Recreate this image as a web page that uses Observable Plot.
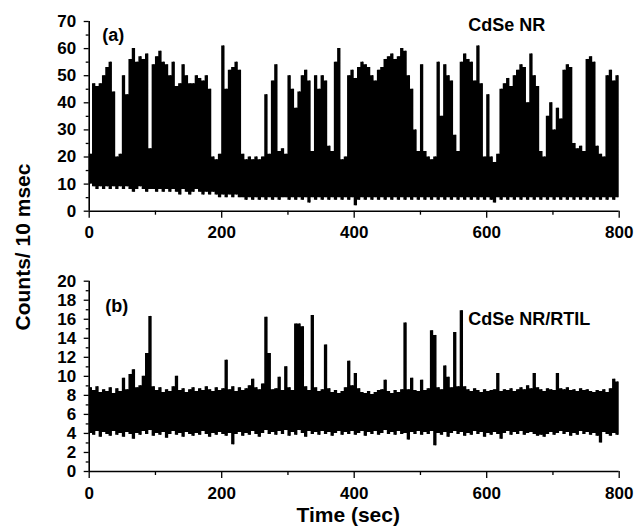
<!DOCTYPE html>
<html>
<head>
<meta charset="utf-8">
<script src="https://cdn.jsdelivr.net/npm/d3@7"></script>
<script src="https://cdn.jsdelivr.net/npm/@observablehq/plot@0.6"></script>
<style>
  html, body { margin: 0; padding: 0; background: #fff; }
  #wrap { position: relative; width: 634px; height: 529px; overflow: hidden; font-family: "Liberation Sans", Arial, sans-serif; }
  .panel { position: absolute; left: 0; }
  #ylab { position: absolute; left: 0; top: 0; pointer-events: none; }
</style>
</head>
<body>
<div id="wrap"></div>
<script>
// ---- data: trace envelopes, 5-second bins (0..795 s) ----
const binStep = 5;
const binStart = d3.range(0, 800, binStep);

// Panel (a) CdSe NR: upper and lower envelope of counts per 10 ms in each bin
const hiA = [
  21,47,46,47,50,53,55,44,20,21,
  50,43,56,60,55,57,56,58,23,54,
  57,59,55,54,50,55,46,47,54,50,
  47,47,50,49,48,50,45,20,19,21,
  61,45,52,53,55,52,21,19,20,19,
  20,19,20,43,21,48,54,22,23,21,
  50,45,38,44,50,52,48,22,50,45,
  50,48,24,22,55,60,19,20,50,52,
  49,53,55,54,53,50,48,52,53,56,
  57,58,56,57,60,59,50,45,30,22,
  54,22,20,19,20,55,35,54,50,48,
  28,22,55,58,56,55,48,61,47,20,
  43,20,18,21,45,47,49,46,50,52,
  54,53,40,58,50,46,22,20,35,40,
  30,38,34,52,54,53,25,23,24,22,
  56,57,55,24,21,20,50,52,48,50
];
const loA = [
  10,9,8,9,8,9,8,9,8,9,
  8,9,8,7,8,9,8,7,8,8,
  7,8,7,8,7,8,7,6,8,7,
  6,7,8,7,6,7,6,7,6,5,
  6,5,6,5,6,5,5,4,5,4,
  5,4,5,4,5,4,5,4,5,5,
  4,5,4,5,4,5,3,5,4,5,
  4,5,4,5,4,5,4,5,4,5,
  2,4,5,4,5,4,5,4,5,4,
  5,4,5,4,5,4,5,4,5,4,
  5,4,5,4,5,4,5,4,5,4,
  5,4,5,4,5,4,5,4,5,4,
  5,4,3,5,4,5,4,5,4,5,
  4,5,4,5,4,5,4,5,4,5,
  4,5,4,5,4,5,4,5,4,5,
  4,5,4,5,4,5,4,5,4,5
];

// Panel (b) CdSe NR/RTIL
const hiB = [
  8.8,8.5,8.9,8.3,8.6,8.4,8.8,8.2,8.7,8.4,
  9.8,8.6,10.2,10.7,8.8,9.0,10.0,12.4,16.3,8.9,
  8.5,8.8,8.3,8.6,8.4,8.9,10.0,8.5,8.7,8.3,
  8.6,8.8,8.4,8.7,8.5,8.9,8.6,8.4,8.8,8.5,
  8.7,11.7,8.6,8.9,8.4,8.8,8.5,8.7,9.0,9.7,
  8.8,8.6,9.2,16.2,12.4,8.6,8.7,9.9,8.5,11.0,
  8.8,8.5,15.5,15.5,15.2,8.9,8.5,16.4,8.8,8.4,
  8.6,13.3,8.7,8.3,8.5,8.2,8.4,8.8,11.6,9.0,
  10.3,8.7,8.3,8.2,8.4,8.1,8.3,8.5,8.6,9.6,
  8.4,8.2,8.5,8.3,8.6,15.6,8.6,9.8,8.5,8.4,
  9.6,8.5,8.7,14.8,14.3,8.8,8.6,11.1,9.9,8.8,
  14.6,8.9,16.9,8.9,8.6,8.4,8.7,8.5,8.3,8.6,
  8.4,8.5,8.6,10.3,8.4,8.6,8.5,8.7,8.4,8.6,
  8.8,8.6,9.0,8.7,10.3,8.8,8.6,8.4,8.7,8.6,
  8.5,10.3,8.7,8.6,8.8,8.5,8.6,8.4,8.7,8.5,
  8.6,8.4,8.3,8.5,8.4,8.6,8.3,8.7,9.7,9.4
];
const loB = [
  4.0,3.8,4.2,3.6,4.1,3.9,3.7,4.2,3.8,4.0,
  3.6,4.1,3.9,3.4,4.0,3.8,4.2,3.9,4.3,3.7,
  4.0,3.8,4.1,3.5,3.9,4.2,3.8,4.0,3.6,4.1,
  3.9,3.7,4.0,3.8,4.2,3.9,3.6,4.0,3.8,4.1,
  3.9,3.7,4.0,2.8,3.9,4.1,3.7,4.0,3.8,4.2,
  3.9,3.6,4.0,4.3,3.9,4.1,3.8,4.2,3.9,4.3,
  3.7,4.1,3.8,4.3,4.0,3.6,4.2,3.9,4.1,3.8,
  4.2,3.9,4.1,3.7,4.0,4.2,3.8,4.1,3.9,4.2,
  3.8,4.0,4.2,3.7,4.1,3.9,4.2,3.8,4.0,4.3,
  3.9,4.1,3.8,4.2,3.9,4.0,3.3,4.1,3.9,4.2,
  3.8,4.1,3.9,4.2,2.7,4.0,3.8,4.1,3.6,4.0,
  4.2,3.9,4.1,3.7,4.0,3.8,4.2,3.9,4.1,3.6,
  4.0,3.8,4.1,3.9,3.4,4.0,4.2,3.8,4.1,3.9,
  4.2,3.8,4.0,4.1,3.9,3.7,3.8,3.6,3.9,4.1,
  3.8,4.0,4.2,3.9,4.1,3.7,4.0,3.8,4.2,3.9,
  4.1,3.8,4.0,3.7,3.0,4.1,3.9,3.7,4.0,3.8
];

// axis tick values
const xMajor = [0, 200, 400, 600, 800];
const xMinor = [100, 300, 500, 700];
const yMajorA = [0, 10, 20, 30, 40, 50, 60, 70];
const yMinorA = [5, 15, 25, 35, 45, 55, 65];
const yMajorB = [0, 2, 4, 6, 8, 10, 12, 14, 16, 18, 20];
const yMinorB = [1, 3, 5, 7, 9, 11, 13, 15, 17, 19];

const panelA = {tag: "(a)", name: "CdSe NR"};
const panelB = {tag: "(b)", name: "CdSe NR/RTIL"};
const xTitle = "Time (sec)";
const yTitle = "Counts/ 10 msec";

// ---- table built from the arrays ----
function bins(hi, lo) {
  return hi.map((h, i) => ({t: binStart[i], hi: h, lo: lo[i]}));
}

const FONT = "'Liberation Sans', Arial, Helvetica, sans-serif";
const W = 634;

function panel({hi, lo, yMajor, yMinor, yMax, height, mt, mb, tag, name, tagDx, tagDy, nameDy, xTitleOn}) {
  const b = bins(hi, lo);
  // close the last bin at the end of the record
  const bArea = b.concat([{t: 800, hi: hi[hi.length - 1], lo: lo[lo.length - 1]}]);
  const marks = [
    Plot.areaY(bArea, {x: "t", y1: "lo", y2: "hi", fill: "black", curve: "step-after"}),
    Plot.ruleX(b, {x: d => d.t + binStep / 2, y1: "lo", y2: "hi", stroke: "black", strokeWidth: 1}),
    Plot.ruleY([0], {stroke: "black", strokeWidth: 1.6}),
    Plot.ruleX([0], {stroke: "black", strokeWidth: 1.6}),
    Plot.axisY(yMajor, {tickSize: 5, tickPadding: 8, label: null, fontSize: 17, fontWeight: "bold", strokeWidth: 1.3}),
    Plot.axisY(yMinor, {tickSize: 3, tickFormat: () => "", label: null, strokeWidth: 1.3}),
    Plot.axisX(xMajor, {tickSize: 7, tickPadding: 8, label: null, fontSize: 17, fontWeight: "bold", strokeWidth: 1.3}),
    Plot.axisX(xMinor, {tickSize: 4, tickFormat: () => "", label: null, strokeWidth: 1.3}),
    Plot.text([tag], {text: d => d, frameAnchor: "top-left", dx: tagDx, dy: tagDy, textAnchor: "start", lineAnchor: "top", fontSize: 18, fontWeight: "bold"}),
    Plot.text([name], {text: d => d, frameAnchor: "top-left", dx: 379, dy: nameDy, textAnchor: "start", lineAnchor: "top", fontSize: 18, fontWeight: "bold"})
  ];
  if (xTitleOn) {
    marks.push(Plot.text([xTitle], {text: d => d, frameAnchor: "bottom", dx: -6, dy: 36, lineAnchor: "top", fontSize: 21, fontWeight: "bold"}));
  }
  return Plot.plot({
    width: W,
    height,
    marginLeft: 88.7,
    marginRight: W - 618.7,
    marginTop: mt,
    marginBottom: mb,
    x: {domain: [0, 800]},
    y: {domain: [0, yMax]},
    style: {fontFamily: FONT, fontSize: "17px", fontWeight: "bold", color: "black", background: "transparent", overflow: "visible"},
    marks
  });
}

const wrap = document.getElementById("wrap");

const pA = panel({hi: hiA, lo: loA, yMajor: yMajorA, yMinor: yMinorA, yMax: 70, height: 240, mt: 21, mb: 29.3,
  tag: panelA.tag, name: panelA.name, tagDx: 13, tagDy: 7, nameDy: -3, xTitleOn: false});
pA.classList.add("panel"); pA.style.top = "0px";
wrap.appendChild(pA);

const pB = panel({hi: hiB, lo: loB, yMajor: yMajorB, yMinor: yMinorB, yMax: 20, height: 289, mt: 40.7, mb: 58,
  tag: panelB.tag, name: panelB.name, tagDx: 16, tagDy: 18, nameDy: 31, xTitleOn: true});
pB.classList.add("panel"); pB.style.top = "240px";
wrap.appendChild(pB);

// shared y-axis title
const svg = d3.select(wrap).append("svg").attr("id", "ylab").attr("width", W).attr("height", 529);
svg.append("text")
  .attr("transform", "translate(30,247) rotate(-90)")
  .attr("text-anchor", "middle")
  .attr("font-family", FONT)
  .attr("font-weight", "bold")
  .attr("font-size", 21)
  .attr("fill", "black")
  .text(yTitle);
</script>
</body>
</html>
